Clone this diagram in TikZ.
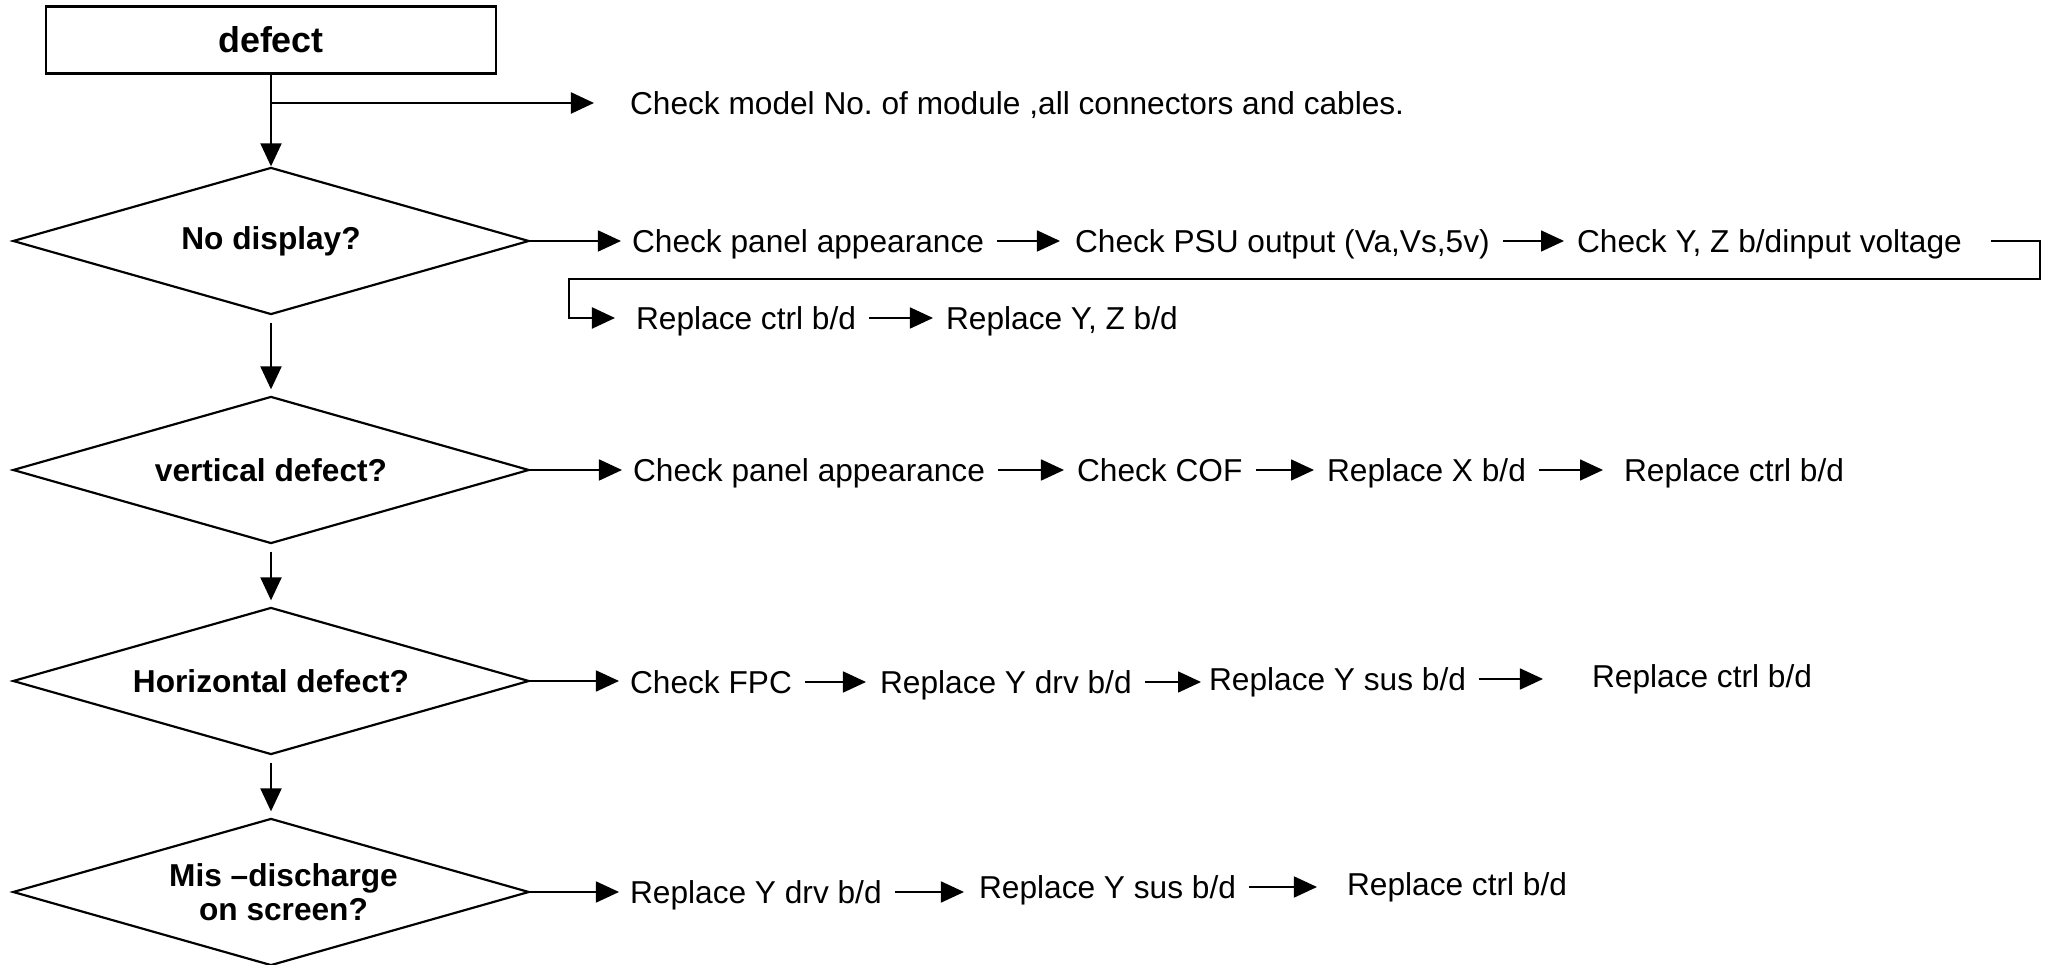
\documentclass[tikz,border=0pt]{standalone}
\usepackage{fontspec}
\setmainfont{Liberation Sans}
\usetikzlibrary{arrows.meta}
\usetikzlibrary{shapes.geometric}
\frenchspacing

\begin{document}
\begin{tikzpicture}[x=0.01cm, y=-0.01cm, line width=0.62pt,
    startbox/.style={draw, minimum width=4.49cm, minimum height=0.67cm, inner sep=0pt,
        font=\bfseries\fontsize{10.2}{12}\selectfont},
    question/.style={draw, diamond, aspect=3.5, minimum width=5.16cm, minimum height=1.47cm,
        inner sep=0pt, align=center, font=\bfseries\fontsize{9}{9.6}\selectfont},
    txt/.style={anchor=west, inner sep=0pt, text height=8pt, text depth=1.6pt,
        font=\fontsize{9}{10}\selectfont},
    flow/.style={-{Triangle[length=2.3mm,width=2.1mm]}},
    rowflow/.style={flow, line width=0.45pt}]
    \useasboundingbox (0,0) rectangle (2046,965);

    \node[startbox] (defect) at (271,40) {defect};
    \node[question] (q1) at (271,241) {No display?};
    \node[question] (q2) at (271,470) {vertical defect?};
    \node[question] (q3) at (271,681) {Horizontal defect?};
    \node[question] (q4) at (271,892) {\hspace*{0.25cm}Mis –discharge\\\hspace*{0.25cm}on screen?};

    \node[txt] (model) at (629,103) {Check model No. of module ,all connectors and cables.};

    \node[txt] (panel1) at (631,241) {Check panel appearance};
    \node[txt] (psu) at (1074,241) {Check PSU output (Va,Vs,5v)};
    \node[txt] (yzin) at (1576,241) {Check Y, Z b/dinput voltage};
    \node[txt] (ctrl1) at (635,318) {Replace ctrl b/d};
    \node[txt] (yz) at (945,318) {Replace Y, Z b/d};

    \node[txt] (panel2) at (632,470) {Check panel appearance};
    \node[txt] (cof) at (1076,470) {Check COF};
    \node[txt] (xbd) at (1326,470) {Replace X b/d};
    \node[txt] (ctrl2) at (1623,470) {Replace ctrl b/d};

    \node[txt] (fpc) at (629,682) {Check FPC};
    \node[txt] (ydrv3) at (879,682) {Replace Y drv b/d};
    \node[txt] (ysus3) at (1208,679) {Replace Y sus b/d};
    \node[txt] (ctrl3) at (1591,676) {Replace ctrl b/d};

    \node[txt] (ydrv4) at (629,892) {Replace Y drv b/d};
    \node[txt] (ysus4) at (978,887) {Replace Y sus b/d};
    \node[txt] (ctrl4) at (1346,884) {Replace ctrl b/d};

    \coordinate (loopR) at (2040,279);
    \coordinate (loopL) at (569,279);

    % main column
    \draw[flow] (defect.south) -- (q1.north);
    \draw[flow, shorten >=0.35cm] (defect.south |- model.west) -- (model.west);
    \foreach \a/\b in {q1/q2, q2/q3, q3/q4}
        \draw[flow, shorten <=0.07cm, shorten >=0.06cm] (\a.south) -- (\b.north);

    % into the rows
    \foreach \a/\b in {q1/panel1, q2/panel2, q3/fpc, q4/ydrv4}
        \draw[rowflow, shorten >=0.1cm] (\a.east) -- (\a.east -| \b.west);

    \foreach \a/\b/\s in {panel1/psu/1.4mm, psu/yzin/1.2mm, ctrl1/yz/1.2mm,
        panel2/cof/1.2mm, cof/xbd/1.2mm, xbd/ctrl2/2mm,
        fpc/ydrv3/1.3mm, ydrv3/ysus3/0.7mm, ysus3/ctrl3/4.8mm,
        ydrv4/ysus4/1.4mm, ysus4/ctrl4/2.9mm}
        \draw[rowflow, shorten <=1.2mm, shorten >=\s] (\a.east) -- (\a.east -| \b.west);

    \draw[flow, shorten <=2.8mm, shorten >=2mm] (yzin.east) -| (loopR) -- (loopL) |- (ctrl1.west);
\end{tikzpicture}
\end{document}
